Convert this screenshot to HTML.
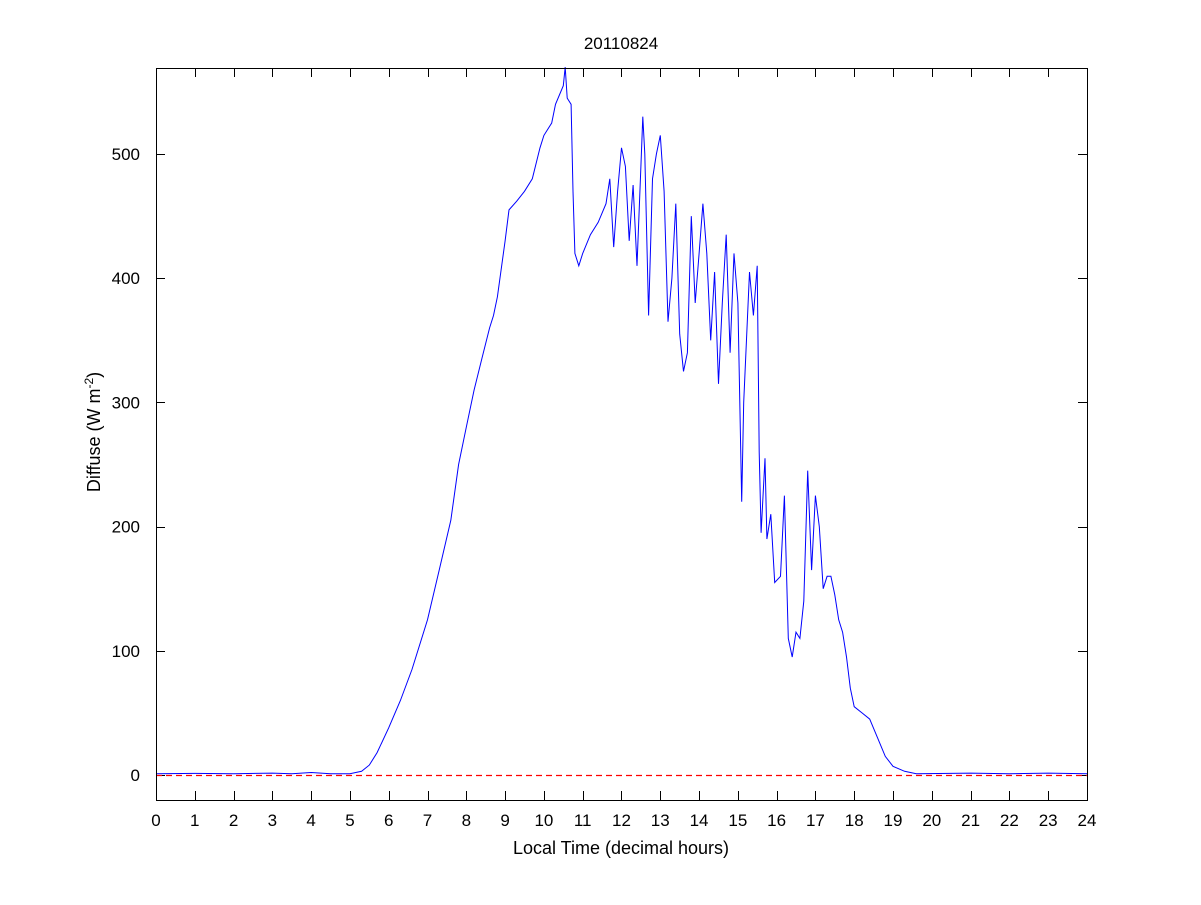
<!DOCTYPE html>
<html><head><meta charset="utf-8"><style>
body{margin:0;background:#fff;}
text{font-family:"Liberation Sans",sans-serif;fill:#000;}
</style></head><body>
<svg id="s" width="1201" height="900" xmlns="http://www.w3.org/2000/svg">
<rect width="1201" height="900" fill="#fff"/>
<g id="ticks" stroke="#000" stroke-width="1"></g>
<line x1="156" y1="775.5" x2="1087" y2="775.5" stroke="#ff0000" stroke-dasharray="6,4" stroke-width="1.2"/>
<path id="curve" fill="none" stroke="#0000ff" stroke-width="1"/>
<rect x="156.5" y="68.5" width="931" height="732" fill="none" stroke="#000"/>
<g id="labels" font-size="17"></g>
<text x="621" y="49" font-size="17" text-anchor="middle">20110824</text>
<text x="621" y="854" font-size="18" text-anchor="middle">Local Time (decimal hours)</text>
<text transform="translate(100,432) rotate(-90)" font-size="18" text-anchor="middle">Diffuse (W m<tspan dy="-7" font-size="12">-2</tspan><tspan dy="7">)</tspan></text>
</svg>
<script>
var X=function(h){return 156+h*38.79},Y=function(v){return 775-v*1.242};
var ns="http://www.w3.org/2000/svg",t=document.getElementById('ticks'),l=document.getElementById('labels');
function el(p,n,a,txt){var e=document.createElementNS(ns,n);for(var k in a)e.setAttribute(k,a[k]);if(txt!=null)e.textContent=txt;p.appendChild(e);}
for(var h=0;h<=24;h++){var x=Math.round(X(h))+0.5;el(t,'line',{x1:x,y1:800,x2:x,y2:791});el(t,'line',{x1:x,y1:68,x2:x,y2:77});el(l,'text',{x:X(h),y:826,'text-anchor':'middle'},h);}
for(var v=0;v<=500;v+=100){var y=Math.round(Y(v))+0.5;el(t,'line',{x1:156,y1:y,x2:165,y2:y});el(t,'line',{x1:1087,y1:y,x2:1078,y2:y});el(l,'text',{x:140,y:Y(v)+6,'text-anchor':'end'},v);}
var p=[0,1,1,1.3,2,1,3,1.5,3.5,1,4,2,4.5,1,5,1,5.3,3,5.5,8,5.7,18,6,38,6.3,60,6.6,85,7,125,7.3,165,7.6,205,7.8,250,8,280,8.2,310,8.4,335,8.6,360,8.7,370,8.8,385,9,430,9.1,455,9.3,462,9.5,470,9.7,480,9.9,505,10,515,10.2,525,10.3,540,10.5,555,10.55,570,10.6,545,10.7,540,10.75,470,10.8,420,10.9,410,11,420,11.2,435,11.4,445,11.6,460,11.7,480,11.8,425,11.9,470,12,505,12.1,490,12.2,430,12.3,475,12.4,410,12.5,490,12.55,530,12.6,500,12.7,370,12.8,480,12.9,500,13,515,13.1,470,13.2,365,13.3,400,13.4,460,13.5,355,13.6,325,13.7,340,13.8,450,13.9,380,14,420,14.1,460,14.2,420,14.3,350,14.4,405,14.5,315,14.6,380,14.7,435,14.8,340,14.9,420,15,380,15.1,220,15.15,300,15.3,405,15.4,370,15.5,410,15.55,260,15.6,195,15.7,255,15.75,190,15.85,210,15.95,155,16.1,160,16.2,225,16.3,110,16.4,95,16.5,115,16.6,110,16.7,140,16.8,245,16.9,165,17,225,17.1,200,17.2,150,17.3,160,17.4,160,17.5,145,17.6,125,17.7,115,17.8,95,17.9,70,18,55,18.2,50,18.4,45,18.6,30,18.8,15,19,7,19.3,3,19.6,1,21,1.5,22,1,23,1.5,24,1];
var d='';for(var i=0;i<p.length;i+=2)d+=(i?'L':'M')+X(p[i]).toFixed(1)+' '+Y(p[i+1]).toFixed(1);
document.getElementById('curve').setAttribute('d',d);
</script>
</body></html>
